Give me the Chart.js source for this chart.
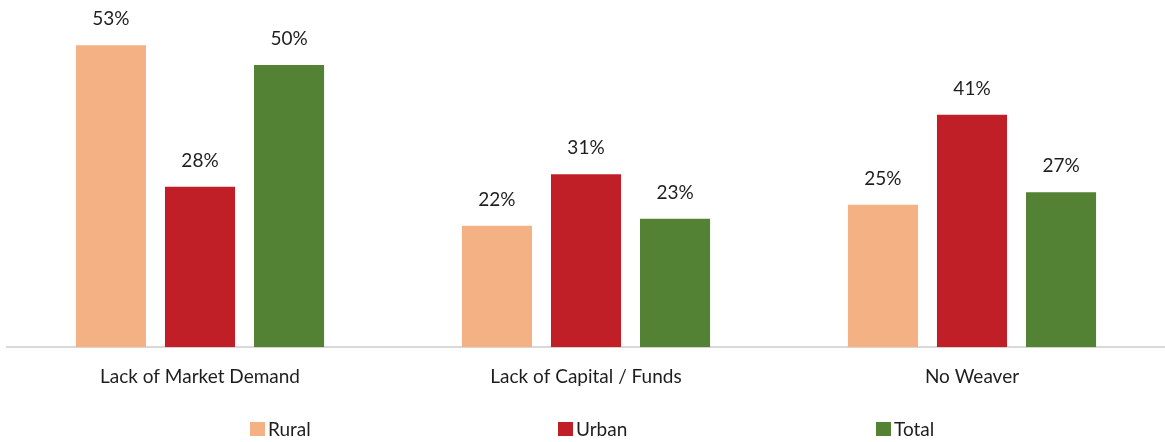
<!DOCTYPE html>
<html>
<head>
<meta charset="utf-8">
<script src="https://cdn.jsdelivr.net/npm/chart.js@4.4.1/dist/chart.umd.min.js"></script>
<style>
  html, body { margin: 0; padding: 0; background: #fff; }
  #wrap { width: 1165px; height: 442px; position: relative; }
</style>
</head>
<body>
<div id="wrap"><canvas id="chartCanvas"></canvas></div>
<script>
const categories = ['Lack of Market Demand', 'Lack of Capital / Funds', 'No Weaver'];
const seriesNames = ['Rural', 'Urban', 'Total'];
const rural = [53.4, 21.5, 25.2];
const urban = [28.4, 30.6, 41.1];
const total = [49.9, 22.7, 27.4];
const colors = ['#F4B183', '#C11F27', '#548235'];

const FONT = 'Lato';
const TEXT = '#1e1e1e';

// value labels above each bar
const valueLabels = {
    id: 'valueLabels',
    afterDatasetsDraw(chart) {
        const ctx = chart.ctx;
        ctx.save();
        ctx.font = '19px ' + FONT;
        ctx.fillStyle = TEXT;
        ctx.textAlign = 'center';
        ctx.textBaseline = 'alphabetic';
        chart.data.datasets.forEach((ds, i) => {
            chart.getDatasetMeta(i).data.forEach((bar, j) => {
                ctx.fillText(Math.round(ds.data[j]) + '%', bar.x, bar.y - 20);
            });
        });
        ctx.restore();
    }
};

// spread-out legend at the bottom
const wideLegend = {
    id: 'wideLegend',
    afterDraw(chart) {
        const ctx = chart.ctx;
        const starts = [250, 558, 876];
        ctx.save();
        ctx.font = '19px ' + FONT;
        ctx.textBaseline = 'alphabetic';
        ctx.textAlign = 'left';
        chart.data.datasets.forEach((ds, i) => {
            const x = starts[i];
            ctx.fillStyle = ds.backgroundColor;
            ctx.fillRect(x, 422, 15, 14);
            ctx.fillStyle = TEXT;
            ctx.fillText(ds.label, x + 18, 436);
        });
        ctx.restore();
    }
};

const ctx = document.getElementById('chartCanvas').getContext('2d');
new Chart(ctx, {
    type: 'bar',
    data: {
        labels: categories,
        datasets: [
            { label: seriesNames[0], data: rural, backgroundColor: colors[0] },
            { label: seriesNames[1], data: urban, backgroundColor: colors[1] },
            { label: seriesNames[2], data: total, backgroundColor: colors[2] }
        ]
    },
    options: {
        responsive: true,
        maintainAspectRatio: false,
        animation: false,
        categoryPercentage: 0.692,
        barPercentage: 0.787,
        layout: { padding: { top: 8, left: 7, right: 0, bottom: 36 } },
        plugins: {
            legend: { display: false },
            tooltip: { enabled: false }
        },
        scales: {
            x: {
                grid: { display: false, drawTicks: false },
                border: { display: true, color: '#D9D9D9', width: 2 },
                ticks: { color: TEXT, font: { family: FONT, size: 19 }, padding: 18 }
            },
            y: {
                display: false,
                min: 0,
                max: 60
            }
        }
    },
    plugins: [valueLabels, wideLegend]
});
</script>
</body>
</html>
